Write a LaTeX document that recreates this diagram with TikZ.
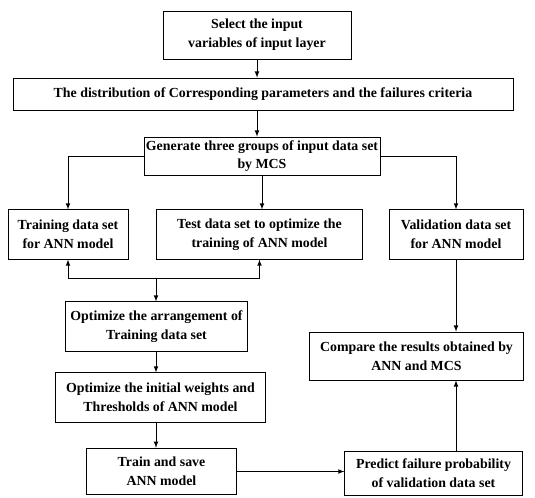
\documentclass[tikz,border=0pt]{standalone}
\usepackage{fontspec}
\setmainfont{Liberation Serif}
\usetikzlibrary{calc}

\begin{document}
\begin{tikzpicture}[x=0.75pt, y=-0.75pt, >=latex, line width=0.6pt,
        box/.style={draw, align=center, inner sep=1pt,
            font=\bfseries\fontsize{10.4}{14}\selectfont}]
        \useasboundingbox (0,0) rectangle (535,497);
        % boxes
        \node[box, minimum width=141pt, minimum height=36pt] (sel) at (257,35) {Select the input\\variables of input layer};
        \node[box, minimum width=375pt, minimum height=24pt] (dist) at (263,94) {The distribution of Corresponding parameters and the failures criteria};
        \node[box, minimum width=177pt, minimum height=28.5pt] (gen) at (262,156) {Generate three groups of input data set\\by MCS};
        \node[box, minimum width=90pt, minimum height=37pt] (train) at (68,234.5) {Training data set\\for ANN model};
        \node[box, minimum width=155pt, minimum height=37pt] (test) at (259.5,234.5) {Test data set to optimize the\\training of ANN model};
        \node[box, minimum width=100.5pt, minimum height=37pt] (valid) at (456,234.5) {Validation data set\\for ANN model};
        \node[box, minimum width=136pt, minimum height=37pt] (arr) at (156.5,326.5) {Optimize the arrangement of\\Training data set};
        \node[box, minimum width=158pt, minimum height=37pt] (wts) at (160.5,397.5) {Optimize the initial weights and\\Thresholds of ANN model};
        \node[box, minimum width=113pt, minimum height=35pt] (tsave) at (161.5,471.5) {Train and save\\ANN model};
        \node[box, minimum width=133pt, minimum height=33pt] (pred) at (433.5,473) {Predict failure probability\\of validation data set};
        \node[box, minimum width=160pt, minimum height=36pt] (comp) at (416.5,356) {Compare the results obtained by\\ANN and MCS};
        \coordinate (j) at (156,278);
        % arrows
        \draw[->] (sel.south) -- (sel.south |- dist.north);
        \draw[->] (sel.south |- dist.south) -- (sel.south |- gen.north);
        \draw[->] (gen.west) -| (train.north);
        \draw[->] (gen.south) -- (gen.south |- test.north);
        \draw[->] (gen.east) -| (valid.north);
        \draw[->] (j) -| (train.south);
        \draw[->] (j) -| (test.south);
        \draw[->] (j) -- (j |- arr.north);
        \draw[->] (j |- arr.south) -- (j |- wts.north);
        \draw[->] (j |- wts.south) -- (j |- tsave.north);
        \draw[->] (tsave.east) -- (tsave.east -| pred.west);
        \draw[->] (valid.south) -- (valid.south |- comp.north);
        \draw[->] (valid.south |- pred.north) -- (valid.south |- comp.south);
\end{tikzpicture}
\end{document}
